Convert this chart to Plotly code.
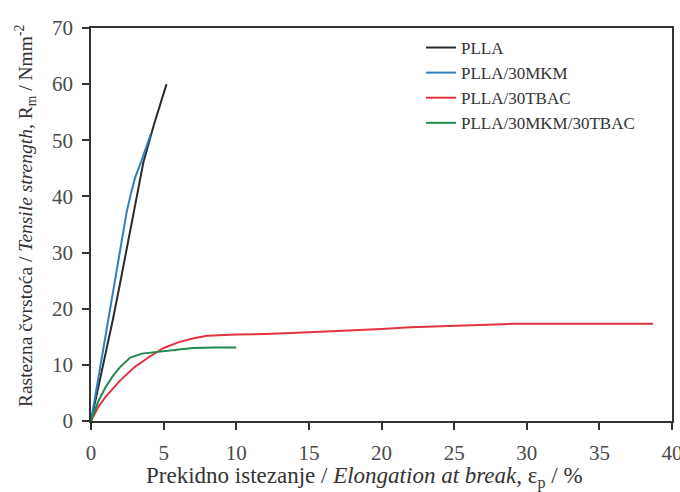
import plotly.graph_objects as go

# Data
pll_x = [0, 0.5, 1.0, 1.5, 2.0, 2.7, 3.2, 3.6, 4.3, 5.2]
pll_y = [0, 5.8, 11.8, 18.0, 24.5, 34.0, 40.5, 46.0, 52.5, 60.0]

mkm_x = [0, 0.5, 1.0, 1.3, 1.9, 2.46, 2.75, 3.03, 3.5, 4.1]
mkm_y = [0, 7.5, 14.8, 19.2, 28.5, 37.3, 40.5, 43.3, 46.5, 51.0]

tbac_x = [0, 0.5, 1.0, 2.0, 3.0, 4.0, 5.0, 6.0, 7.0, 8.0, 10.0, 12.0, 15.0, 18.0, 20.0, 22.0, 25.0, 29.0, 33.0, 38.7]
tbac_y = [0, 2.5, 4.3, 7.2, 9.6, 11.4, 13.0, 14.0, 14.7, 15.2, 15.4, 15.5, 15.8, 16.1, 16.4, 16.7, 17.0, 17.3, 17.3, 17.3]

mix_x = [0, 0.5, 1.0, 1.5, 2.0, 2.7, 3.5, 4.5, 5.5, 7.0, 8.5, 10.0]
mix_y = [0, 3.5, 6.0, 8.0, 9.6, 11.3, 12.0, 12.3, 12.6, 13.0, 13.1, 13.1]

names = ["PLLA", "PLLA/30MKM", "PLLA/30TBAC", "PLLA/30MKM/30TBAC"]
colors = ["#2b2b2b", "#2f7fc1", "#e3323f", "#1e8a4c"]
series = [(pll_x, pll_y), (mkm_x, mkm_y), (tbac_x, tbac_y), (mix_x, mix_y)]

x_title = "Prekidno istezanje / <i>Elongation at break</i>, ε<sub>p</sub> / %"
y_title = "Rastezna čvrstoća / <i>Tensile strength</i>, R<sub>m</sub> / Nmm<sup>-2</sup>"

fig = go.Figure()
for (xs, ys), n, c in zip(series, names, colors):
    fig.add_trace(go.Scatter(x=xs, y=ys, mode="lines", name=n,
                             line=dict(color=c, width=2)))

font = "Liberation Serif, Times New Roman, serif"
axis_common = dict(showline=True, linecolor="#333333", linewidth=1.6, mirror=True,
                   ticks="outside", ticklen=7, tickwidth=1.6, tickcolor="#333333",
                   showgrid=False, zeroline=False, automargin=False,
                   ticklabelstandoff=5, ticklabeloverflow="allow",
                   tickfont=dict(family=font, size=21, color="#4a4a4a"))

fig.update_layout(
    width=680, height=492,
    margin=dict(l=91, r=8, t=28, b=71),
    plot_bgcolor="white", paper_bgcolor="white",
    font=dict(family=font, color="#333333"),
    xaxis=dict(range=[0, 40], dtick=5, **axis_common),
    yaxis=dict(range=[0, 70], dtick=10, **axis_common),
    legend=dict(x=0.568, y=0.995, xanchor="left", yanchor="top",
                font=dict(family=font, size=17, color="#333333"),
                bgcolor="rgba(0,0,0,0)", itemwidth=30, tracegroupgap=0),
    annotations=[
        dict(text=x_title, xref="paper", yref="paper", x=0.47, y=-0.145,
             xanchor="center", yanchor="middle", showarrow=False,
             font=dict(family=font, size=23, color="#333333")),
        dict(text=y_title, xref="paper", yref="paper", x=-0.1136, y=0.524,
             xanchor="center", yanchor="middle", showarrow=False, textangle=-90,
             font=dict(family=font, size=19.5, color="#333333")),
    ],
)

fig.write_html("out.html", config={"displayModeBar": False},
               post_script="document.body.style.margin='0';document.body.style.overflow='hidden';")
